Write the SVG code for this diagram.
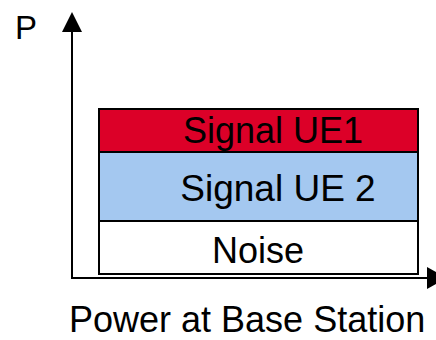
<svg xmlns="http://www.w3.org/2000/svg" width="436" height="340" viewBox="0 0 436 340">
<style>
  text { font-family: "Liberation Sans", Arial, sans-serif; fill: #000; }
  .band { stroke: #000; stroke-width: 2; }
  .axis { stroke: #000; stroke-width: 2; fill: none; }
</style>
<rect width="436" height="340" fill="#fff"/>
<g id="connectors">
  <line class="axis" x1="72" y1="30" x2="72" y2="278"/>
  <line class="axis" x1="71" y1="278" x2="428" y2="278"/>
  <polygon points="72,12 62,32 82,32" fill="#000"/>
  <polygon points="427,267 447,278 427,289" fill="#000"/>
</g>
<g id="noise">
  <rect class="band" x="99" y="221" width="319" height="53" fill="#fff"/>
  <text x="258" y="263" font-size="36" text-anchor="middle">Noise</text>
</g>
<g id="signal-ue2">
  <rect class="band" x="99" y="152" width="319" height="69" fill="#A4C8F0"/>
  <text x="278" y="201" font-size="37" text-anchor="middle">Signal UE 2</text>
</g>
<g id="signal-ue1">
  <rect class="band" x="99" y="109" width="319" height="43" fill="#DC0028"/>
  <text x="273" y="143" font-size="36" text-anchor="middle">Signal UE1</text>
</g>
<g id="axis-labels">
  <text x="15" y="39" font-size="33">P</text>
  <text x="69" y="332" font-size="36">Power at Base Station</text>
</g>
</svg>
